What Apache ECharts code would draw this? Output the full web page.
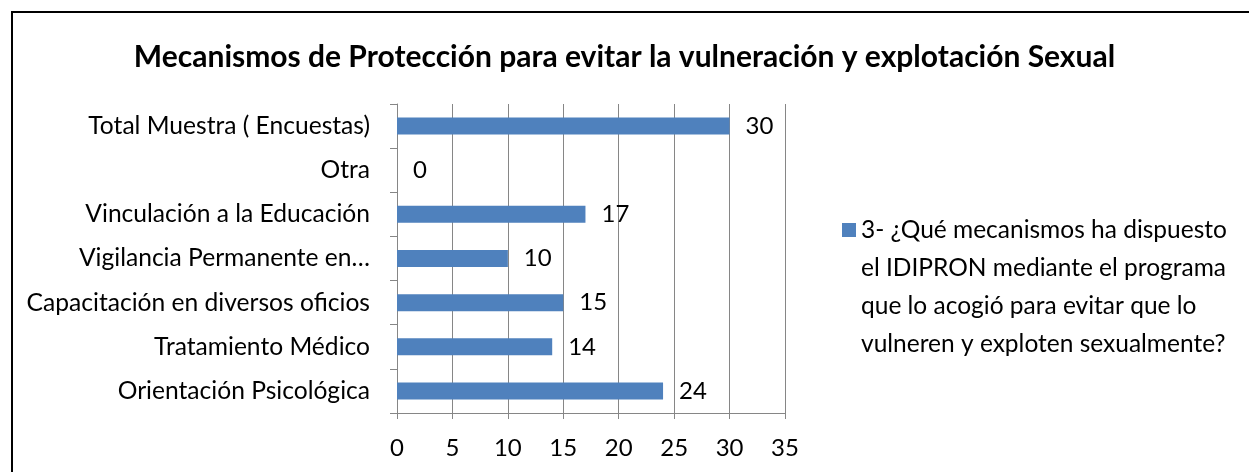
<!DOCTYPE html>
<html>
<head>
<meta charset="utf-8">
<script src="https://cdn.jsdelivr.net/npm/echarts@6/dist/echarts.min.js"></script>
<style>
  html, body { margin: 0; padding: 0; background: #fff; }
  #main { width: 1249px; height: 472px; }
</style>
</head>
<body>
<div id="main"></div>
<script>
// datos del gráfico
var categorias = [
  'Total Muestra ( Encuestas)',
  'Otra',
  'Vinculación a la Educación',
  'Vigilancia Permanente en…',
  'Capacitación en diversos oficios',
  'Tratamiento Médico',
  'Orientación Psicológica'
]
var valores = [30, 0, 17, 10, 15, 14, 24]
var ejeX = [0, 5, 10, 15, 20, 25, 30, 35]
var nombreSerie = '3- ¿Qué mecanismos ha dispuesto\nel IDIPRON mediante el programa\nque lo acogió para evitar que lo\nvulneren y exploten sexualmente?'
var titulo = 'Mecanismos de Protección para evitar la vulneración y explotación Sexual'

var fuente = 'Lato'
var myChart = echarts.init(document.getElementById('main'))
var option = {
  animation: false,
  backgroundColor: '#fff',
  title: {
    text: titulo,
    left: 'center',
    top: 37,
    textStyle: { fontFamily: fuente, fontWeight: 'bold', fontSize: 30, color: '#000' }
  },
  // la leyenda: tres líneas vacías delante para que la primera quede junto al cuadrado
  legend: {
    left: 842,
    top: 97,
    padding: 0,
    itemWidth: 14,
    itemHeight: 14,
    itemGap: 6,
    icon: 'rect',
    formatter: function (n) { return '\n\n\n' + n },
    textStyle: { fontFamily: fuente, fontSize: 24.5, color: '#000', lineHeight: 38 },
    data: [nombreSerie]
  },
  graphic: [{
    type: 'rect',
    silent: true,
    shape: { x: 12, y: 12, width: 1400, height: 700 },
    style: { fill: 'none', stroke: '#000', lineWidth: 2 }
  }],
  grid: { left: 397, right: 464, top: 104, bottom: 59, containLabel: false },
  xAxis: {
    type: 'value',
    min: ejeX[0],
    max: ejeX[ejeX.length - 1],
    interval: 5,
    axisLine: { show: true, lineStyle: { color: '#868686' } },
    axisTick: { show: true, length: 6, lineStyle: { color: '#868686' } },
    splitLine: { show: true, lineStyle: { color: '#868686', width: 1 } },
    axisLabel: { fontFamily: fuente, fontSize: 24, color: '#000', margin: 23 }
  },
  yAxis: {
    type: 'category',
    inverse: true,
    data: categorias,
    axisLine: { show: true, lineStyle: { color: '#868686' } },
    axisTick: { show: true, length: 7, lineStyle: { color: '#868686' } },
    axisLabel: { fontFamily: fuente, fontSize: 24.6, color: '#000', margin: 27 }
  },
  series: [{
    name: nombreSerie,
    type: 'bar',
    data: valores,
    barWidth: 17,
    itemStyle: { color: '#4F81BD' },
    label: {
      show: true,
      position: 'right',
      distance: 16,
      fontFamily: fuente,
      fontSize: 24,
      color: '#000'
    }
  }]
}
myChart.setOption(option)
</script>
</body>
</html>
